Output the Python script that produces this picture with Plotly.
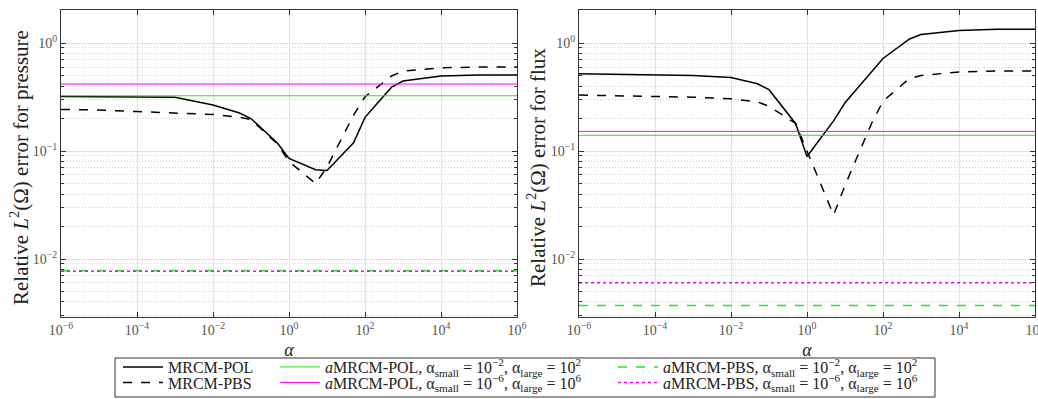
import plotly.graph_objects as go

# ---------------- data ----------------
alpha = [1e-6, 1e-5, 1e-4, 1e-3, 1e-2, 5e-2, 1e-1, 5e-1, 1, 5, 10, 50, 100, 500, 1e3, 1e4, 1e5, 1e6]

# pressure (left)
p_mrcm_pol = [0.32, 0.32, 0.32, 0.315, 0.267, 0.225, 0.2, 0.118, 0.0855, 0.067, 0.066, 0.119, 0.205, 0.39, 0.445, 0.495, 0.505, 0.505]
p_mrcm_pbs = [0.243, 0.24, 0.232, 0.225, 0.218, 0.205, 0.196, 0.116, 0.08, 0.05, 0.071, 0.215, 0.318, 0.495, 0.55, 0.59, 0.6, 0.6]
p_apol_2 = 0.325
p_apol_6 = 0.417
p_apbs_2 = 0.0078
p_apbs_6 = 0.0077

# flux (right)
f_mrcm_pol = [0.52, 0.515, 0.51, 0.50, 0.48, 0.42, 0.37, 0.18, 0.089, 0.19, 0.28, 0.55, 0.72, 1.09, 1.2, 1.31, 1.34, 1.34]
f_mrcm_pbs = [0.33, 0.325, 0.32, 0.315, 0.305, 0.285, 0.26, 0.18, 0.1, 0.0256, 0.048, 0.18, 0.29, 0.47, 0.5, 0.54, 0.55, 0.55]
f_apol_2 = 0.14
f_apol_6 = 0.152
f_apbs_2 = 0.00372
f_apbs_6 = 0.00604

x_ticks = [1e-6, 1e-4, 1e-2, 1e0, 1e2, 1e4, 1e6]
x_ticktext = ["10<sup>−6</sup>", "10<sup>−4</sup>", "10<sup>−2</sup>", "10<sup>0</sup>",
              "10<sup>2</sup>", "10<sup>4</sup>", "10<sup>6</sup>"]
y_ticks = [1e-2, 1e-1, 1e0]
y_ticktext = ["10<sup>−2</sup>", "10<sup>−1</sup>", "10<sup>0</sup>"]
y_minor = [m * 10.0 ** e for e in (-3, -2, -1, 0) for m in range(2, 10)]

names = {
    "pol": "MRCM-POL",
    "pbs": "MRCM-PBS",
    "apol2": "<i>a</i>MRCM-POL, α<sub>small</sub> = 10<sup>−2</sup>, α<sub>large</sub> = 10<sup>2</sup>",
    "apol6": "<i>a</i>MRCM-POL, α<sub>small</sub> = 10<sup>−6</sup>, α<sub>large</sub> = 10<sup>6</sup>",
    "apbs2": "<i>a</i>MRCM-PBS, α<sub>small</sub> = 10<sup>−2</sup>, α<sub>large</sub> = 10<sup>2</sup>",
    "apbs6": "<i>a</i>MRCM-PBS, α<sub>small</sub> = 10<sup>−6</sup>, α<sub>large</sub> = 10<sup>6</sup>",
}
y_titles = ["Relative <i>L</i><sup>2</sup>(Ω) error for pressure",
            "Relative <i>L</i><sup>2</sup>(Ω) error for flux"]

GREEN = "rgb(40,225,40)"
MAGENTA = "rgb(255,0,255)"
FONT = "Liberation Serif"

W, H = 1038, 399

fig = go.Figure()

def add_panel(xa, ya, pol, pbs, apol2, apol6, apbs2, apbs6, show):
    xr = [alpha[0], alpha[-1]]
    fig.add_trace(go.Scatter(x=alpha, y=pol, mode="lines", name=names["pol"], xaxis=xa, yaxis=ya,
                             line=dict(color="black", width=1.5), showlegend=show, legend="legend"))
    fig.add_trace(go.Scatter(x=alpha, y=pbs, mode="lines", name=names["pbs"], xaxis=xa, yaxis=ya,
                             line=dict(color="black", width=1.5, dash="dash"), showlegend=show, legend="legend2"))
    fig.add_trace(go.Scatter(x=xr, y=[apol2, apol2], mode="lines", name=names["apol2"], xaxis=xa, yaxis=ya,
                             line=dict(color=GREEN, width=1), showlegend=show, legend="legend3"))
    fig.add_trace(go.Scatter(x=xr, y=[apol6, apol6], mode="lines", name=names["apol6"], xaxis=xa, yaxis=ya,
                             line=dict(color=MAGENTA, width=1), showlegend=show, legend="legend4"))
    fig.add_trace(go.Scatter(x=xr, y=[apbs2, apbs2], mode="lines", name=names["apbs2"], xaxis=xa, yaxis=ya,
                             line=dict(color=GREEN, width=1.5, dash="dash"), showlegend=show, legend="legend5"))
    fig.add_trace(go.Scatter(x=xr, y=[apbs6, apbs6], mode="lines", name=names["apbs6"], xaxis=xa, yaxis=ya,
                             line=dict(color=MAGENTA, width=1.5, dash="dot"), showlegend=show, legend="legend6"))

add_panel("x", "y", p_mrcm_pol, p_mrcm_pbs, p_apol_2, p_apol_6, p_apbs_2, p_apbs_6, True)
add_panel("x2", "y2", f_mrcm_pol, f_mrcm_pbs, f_apol_2, f_apol_6, f_apbs_2, f_apbs_6, False)

def xaxis_cfg(dom):
    return dict(type="log", domain=dom, range=[-6, 6], tickvals=x_ticks, ticktext=x_ticktext,
                ticks="inside", ticklen=5, tickcolor="#333", mirror="ticks", showline=True,
                linecolor="#333", linewidth=1, showgrid=True, gridcolor="#e2e2e2", gridwidth=1,
                zeroline=False, tickfont=dict(family=FONT, size=14, color="#555"), automargin=False,
                ticklabeloverflow="allow",
                title=dict(text="<i>α</i>", font=dict(family=FONT, size=18, color="#222"), standoff=6))

def yaxis_cfg(anchor):
    return dict(type="log", domain=[1 - 317 / H, 1 - 10 / H], range=[-2.537, 0.306], anchor=anchor,
                tickvals=y_ticks, ticktext=y_ticktext, ticks="inside", ticklen=5, tickcolor="#333",
                mirror="ticks", showline=True, linecolor="#333", linewidth=1,
                showgrid=True, gridcolor="#e2e2e2", gridwidth=1, zeroline=False, automargin=False,
                minor=dict(tickvals=y_minor, ticks="inside", ticklen=3, tickcolor="#333",
                           showgrid=True, gridcolor="#cfcfcf", griddash="1px,2px", gridwidth=1),
                tickfont=dict(family=FONT, size=14, color="#555"))

LEG_FONT = dict(family=FONT, size=16, color="#222")
col_x = [118 / W, 275 / W, 613 / W]
row_y = [1 - 367 / H, 1 - 382.5 / H]
legend_pos = [(0, 0), (0, 1), (1, 0), (1, 1), (2, 0), (2, 1)]
legends = {}
for i, (c, r) in enumerate(legend_pos):
    key = "legend" if i == 0 else f"legend{i + 1}"
    legends[key] = dict(x=col_x[c], y=row_y[r], xanchor="left", yanchor="middle",
                        bgcolor="rgba(0,0,0,0)", font=LEG_FONT, itemwidth=40, borderwidth=0)

title_x = [19 / W, 536 / W]
annotations = [dict(text=t, x=tx, y=1 - 168 / H, xref="paper", yref="paper", showarrow=False,
                    textangle=-90, xanchor="center", yanchor="middle",
                    font=dict(family=FONT, size=21, color="#222"))
               for t, tx in zip(y_titles, title_x)]

fig.update_layout(
    width=W, height=H,
    margin=dict(l=0, r=0, t=0, b=0, autoexpand=False),
    paper_bgcolor="white", plot_bgcolor="white",
    font=dict(family=FONT, color="#222"),
    xaxis=xaxis_cfg([61 / W, 517 / W]),
    yaxis=yaxis_cfg("x"),
    xaxis2=dict(xaxis_cfg([579 / W, 1035 / W]), anchor="y2"),
    yaxis2=yaxis_cfg("x2"),
    annotations=annotations,
    shapes=[dict(type="rect", xref="paper", yref="paper", x0=115 / W, x1=935 / W,
                 y0=1 - 397 / H, y1=1 - 358 / H, line=dict(color="#333", width=1), fillcolor="rgba(0,0,0,0)")],
    **legends,
)

fig.write_html("out.html", config={"displayModeBar": False},
               post_script="document.body.style.margin='0';document.body.style.overflow='hidden';")
